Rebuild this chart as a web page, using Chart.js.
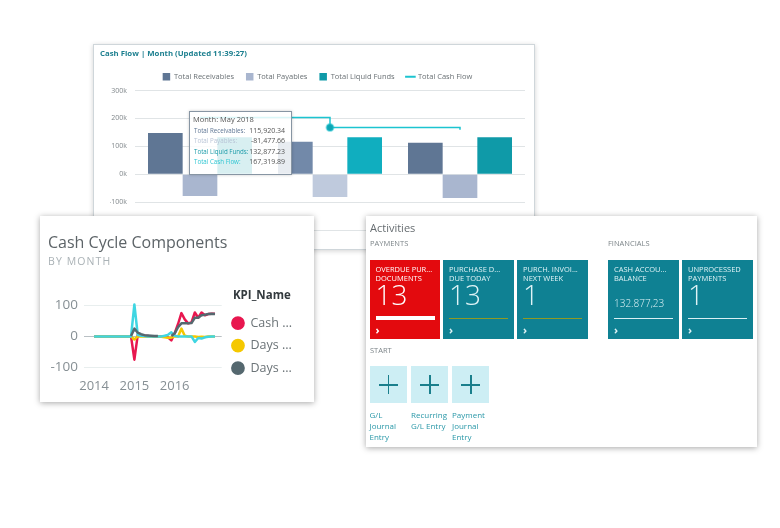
<!DOCTYPE html>
<html>
<head>
<meta charset="utf-8">
<script src="https://cdn.jsdelivr.net/npm/chart.js@4/dist/chart.umd.min.js"></script>
<style>
  body { margin: 0; background: #fff; font-family: "Open Sans", sans-serif; width: 780px; height: 528px; overflow: hidden; position: relative; }
  .card { position: absolute; background: #fff; box-sizing: border-box; }
  canvas { position: absolute; left: 0; top: 0; }
  #flowCard { left: 93px; top: 44px; width: 442px; height: 206px; border: 1px solid #cfd6da; box-shadow: 0 1px 5px rgba(0,0,0,.18); }
  #flowTitle { position: absolute; left: 6px; top: 3px; font-size: 7.8px; font-weight: 700; color: #1c7f8f; }
  #tip { position: absolute; left: 95px; top: 66px; width: 103px; height: 64px; box-sizing: border-box; background: rgba(255,255,255,.84); border: 1.5px solid #8795a3; box-shadow: 0 0 3px rgba(0,0,0,.2); font-size: 7.5px; color: #555; }
  #tip div { position: absolute; white-space: nowrap; }
  #cycleCard { left: 40px; top: 216px; width: 274px; height: 186px; box-shadow: 0 1px 6px rgba(0,0,0,.35); }
  #cycleTitle { position: absolute; left: 8px; top: 15px; font-size: 16px; color: #5d6468; }
  #cycleSub { position: absolute; left: 8px; top: 38px; font-size: 10.5px; letter-spacing: 1.1px; color: #aab2b6; }
  #actCard { left: 366px; top: 216px; width: 391px; height: 231px; box-shadow: 0 1px 6px rgba(0,0,0,.35); }
  #actCard .t { position: absolute; white-space: nowrap; }
  .tile { position: absolute; top: 44px; width: 70.5px; height: 79px; background: #0f8193; color: #dff3f6; }
  .tile div { position: absolute; white-space: nowrap; }
  .start { position: absolute; top: 150px; width: 37px; height: 37px; background: #cdeef4; }
  .start i { position: absolute; background: #1a7f8c; }
  .startLabel { position: absolute; top: 193px; width: 40px; font-size: 8px; line-height: 11px; color: #2a98a8; }
</style>
</head>
<body>
<div class="card" id="flowCard">
  <canvas id="flowChart" width="440" height="204"></canvas>
  <div id="flowTitle">Cash Flow | Month (Updated 11:39:27)</div>
  <div id="tip"></div>
</div>
<div class="card" id="cycleCard">
  <canvas id="cycleChart" width="274" height="186"></canvas>
  <div id="cycleTitle">Cash Cycle Components</div>
  <div id="cycleSub">BY MONTH</div>
</div>
<div class="card" id="actCard"></div>
<script>
const flowMonths = ["Apr 2018", "May 2018", "Jun 2018"];
const receivables = [148000, 115920.34, 113000];
const payables = [-78000, -81477.66, -85000];
const liquidFunds = [132877.23, 132877.23, 132877.23];
const cashFlow = [203000, 167319.89, 159000];

const cycleMonths = [
  "2013-10", "2013-11", "2013-12",
  "2014-01", "2014-02", "2014-03", "2014-04", "2014-05", "2014-06", "2014-07", "2014-08", "2014-09", "2014-10", "2014-11", "2014-12",
  "2015-01", "2015-02", "2015-03", "2015-04", "2015-05", "2015-06", "2015-07", "2015-08", "2015-09", "2015-10", "2015-11", "2015-12",
  "2016-01", "2016-02", "2016-03", "2016-04", "2016-05", "2016-06", "2016-07", "2016-08", "2016-09", "2016-10", "2016-11", "2016-12",
  "2017-01", "2017-02", "2017-03"
];
const n = null;
const cashSeries = [n, n, n, 0, 0, 0, 0, 0, 0, 0, 0, 0, 0, 0, 0, -75, 5, 3, 2, 1, 0, 0, 0, 0, 0, -3, -13, 10, 40, 75, 55, 42, 45, 77, 60, 77, 68, 72, 73, 73, n, n];
const daysSalesSeries = [n, n, n, 0, 0, 0, 0, 0, 0, 0, 0, 0, 0, 0, 0, -10, 0, 0, 0, 0, 0, 0, 0, -1, -3, -4, -4, 0, 0, 25, 2, 0, 0, 0, -2, -1, -2, 0, 0, 0, n, n];
const daysPayableSeries = [n, n, n, n, n, n, n, n, n, n, n, n, n, n, 1, 25, 12, 7, 4, 3, 2, 1, 1, n, n, n, 1, 10, 30, 42, 42, 42, 43, 60, 60, 68, 70, 72, 73, 72, n, n];
const daysInventorySeries = [n, n, n, 0, 0, 0, 0, 0, 0, 0, 0, 0, 0, 0, 0, 103, 5, 2, 1, 0, 0, 0, 0, 0, 2, 5, 13, 2, 0, 0, 0, 0, 0, -18, -5, -7, -3, -1, 0, 0, n, n];
const cycleLabels = ["Cash ...", "Days ...", "Days ..."];

const tileTitles = [["OVERDUE PUR...", "DOCUMENTS"], ["PURCHASE D...", "DUE TODAY"], ["PURCH. INVOI...", "NEXT WEEK"], ["CASH ACCOU...", "BALANCE"], ["UNPROCESSED", "PAYMENTS"]];
const tileValues = ["13", "13", "1", "132.877,23", "1"];
const startLabels = ["G/L Journal Entry", "Recurring G/L Entry", "Payment Journal Entry"];

const tickK = (v) => (v / 1000) + "k";
const byMonth = (dark, light) => (c) => (c.dataIndex === 1 ? light : dark);

new Chart(document.getElementById("flowChart"), {
  data: {
    labels: flowMonths,
    datasets: [
      { type: "bar", label: "Total Receivables", data: receivables, order: 1, pointStyle: "rect", backgroundColor: byMonth("#5f7694", "#7289a9") },
      { type: "bar", label: "Total Payables", data: payables, order: 1, pointStyle: "rect", backgroundColor: byMonth("#a9b6cf", "#bfcadd") },
      { type: "bar", label: "Total Liquid Funds", data: liquidFunds, order: 1, pointStyle: "rect", backgroundColor: byMonth("#0f9aa8", "#10aebf") },
      {
        type: "line", label: "Total Cash Flow", data: cashFlow, order: 0, stepped: true,
        borderColor: "#1cc4d0", borderWidth: 1.5,
        pointStyle: (c) => (c.dataIndex === 1 ? "circle" : "line"),
        pointRadius: (c) => (c.dataIndex === 1 ? 3.5 : 0),
        pointBackgroundColor: "#0fa5b3",
        pointBorderColor: (c) => (c.dataIndex === 1 ? "rgba(28,196,208,.45)" : "#1cc4d0"),
        pointBorderWidth: 2
      }
    ]
  },
  options: {
    responsive: false,
    animation: false,
    layout: { padding: { top: 16, left: 16, right: 9, bottom: 19 } },
    datasets: { bar: { categoryPercentage: 0.8, barPercentage: 1 } },
    plugins: {
      tooltip: { enabled: false },
      legend: {
        labels: {
          usePointStyle: true, boxHeight: 8, font: { family: "Open Sans", size: 7.5 }, color: "#6a7175", padding: 12,
          sort: (a, b) => a.datasetIndex - b.datasetIndex
        }
      }
    },
    scales: {
      x: { display: false, offset: true },
      y: {
        min: -200000, max: 300000,
        afterFit: (s) => { s.width = 25; },
        border: { display: false },
        grid: { color: "#e0e4e6", drawTicks: false },
        ticks: { stepSize: 100000, callback: tickK, padding: 8, color: "#80878b", font: { family: "Open Sans", size: 7 } }
      }
    }
  }
});

// round joins: the default miter overshoots the sharp spikes
const cycleLine = (label, data, color, order) => ({ label, data, order, borderColor: color, backgroundColor: color, pointStyle: "circle", borderWidth: 2.5, borderJoinStyle: "round", pointRadius: 0, tension: 0, clip: false });

new Chart(document.getElementById("cycleChart"), {
  type: "line",
  data: {
    labels: cycleMonths,
    datasets: [
      cycleLine(cycleLabels[0], cashSeries, "#e8174f", 4),
      cycleLine(cycleLabels[1], daysSalesSeries, "#f5c800", 3),
      cycleLine("Days Inventory", daysInventorySeries, "#3fd6e2", 2),
      cycleLine(cycleLabels[2], daysPayableSeries, "#55686f", 1)
    ]
  },
  options: {
    responsive: false,
    animation: false,
    layout: { padding: { top: 68, right: 12, bottom: 5 } },
    plugins: {
      tooltip: { enabled: false },
      legend: {
        position: "right",
        align: "start",
        maxWidth: 90,
        title: { display: true, text: "KPI_Name", color: "#333a3e", font: { family: "Open Sans", size: 11.5, weight: "bold" }, padding: { top: 6, bottom: 3 } },
        labels: {
          usePointStyle: true, boxHeight: 8, padding: 10, color: "#6c7478",
          font: { family: "Open Sans", size: 12.5 },
          sort: (a, b) => a.datasetIndex - b.datasetIndex,
          filter: (item) => item.text !== "Days Inventory"
        }
      }
    },
    scales: {
      x: {
        border: { display: false },
        grid: { display: false },
        ticks: {
          autoSkip: false, maxRotation: 0, padding: 3, color: "#868f94", font: { family: "Open Sans", size: 13 },
          callback: function (v) {
            const m = this.getLabelForValue(v);
            return m.endsWith("-01") && m < "2017" ? m.slice(0, 4) : "";
          }
        }
      },
      y: {
        min: -100, max: 169,
        afterFit: (s) => { s.width = 44; },
        border: { display: false },
        grid: { color: (c) => (c.tick.value === 0 ? "#b9c0c4" : "#e8eeee"), drawTicks: false },
        ticks: { stepSize: 100, includeBounds: false, padding: 6, color: "#868f94", font: { family: "Open Sans", size: 13.5 } }
      }
    }
  }
});

// tooltip box over the flow chart
const tip = document.getElementById("tip");
const money = (v) => v.toLocaleString("en-US", { minimumFractionDigits: 2, maximumFractionDigits: 2 });
const tipRows = [
  ["Total Receivables:", receivables[1], "#5f7694"],
  ["Total Payables:", payables[1], "#b9c4d6"],
  ["Total Liquid Funds:", liquidFunds[1], "#1a9aa8"],
  ["Total Cash Flow:", cashFlow[1], "#2fc6d2"]
];
let tipHtml = `<div style="left:3px;top:2px;font-size:7.5px">Month: ${flowMonths[1]}</div>`;
tipRows.forEach((row, i) => {
  tipHtml += `<div style="left:4px;top:${14 + i * 10.3}px;font-size:6.2px;color:${row[2]}">${row[0]}</div>`;
  tipHtml += `<div style="right:6px;top:${14 + i * 10.3}px;font-size:7px">${money(row[1])}</div>`;
});
tip.innerHTML = tipHtml;

// activities panel
const act = document.getElementById("actCard");
let actHtml = `<div class="t" style="left:4px;top:4px;font-size:11px;color:#666c70">Activities</div>`;
actHtml += `<div class="t" style="left:4px;top:22px;font-size:7.5px;color:#7d8589">PAYMENTS</div>`;
actHtml += `<div class="t" style="left:242px;top:22px;font-size:7.5px;color:#7d8589">FINANCIALS</div>`;
actHtml += `<div class="t" style="left:4px;top:129px;font-size:7.5px;color:#7d8589">START</div>`;
const tileX = [3.5, 77, 151, 242, 316];
tileTitles.forEach((title, i) => {
  const isMoney = i === 3;
  const bar = i === 0
    ? `<div style="left:6px;top:56px;width:59px;height:4px;background:#fff"></div>`
    : `<div style="left:6px;top:58px;width:59px;height:1px;background:${i < 3 ? "#8f9a24" : "#d9f0f4"}"></div>`;
  const value = isMoney
    ? `<div style="left:6px;top:36px;font-size:10px;font-weight:300">${tileValues[i]}</div>`
    : `<div style="left:6px;top:15px;font-size:28px;font-weight:300">${tileValues[i]}</div>`;
  actHtml += `<div class="tile" style="left:${tileX[i]}px;${i === 0 ? "background:#e30a0e;color:#fff" : ""}">
    <div style="left:6px;top:5px;font-size:7.5px;line-height:9px">${title[0]}<br>${title[1]}</div>
    ${value}${bar}
    <div style="left:6px;top:62px;font-size:11px;font-weight:700">›</div></div>`;
});
const startX = [3.5, 45, 86];
startLabels.forEach((label, i) => {
  actHtml += `<div class="start" style="left:${startX[i]}px"><i style="left:9px;top:18px;width:19px;height:1.5px"></i><i style="left:18px;top:9px;width:1.5px;height:19px"></i></div>`;
  actHtml += `<div class="startLabel" style="left:${startX[i]}px">${label}</div>`;
});
act.innerHTML = actHtml;
</script>
</body>
</html>
